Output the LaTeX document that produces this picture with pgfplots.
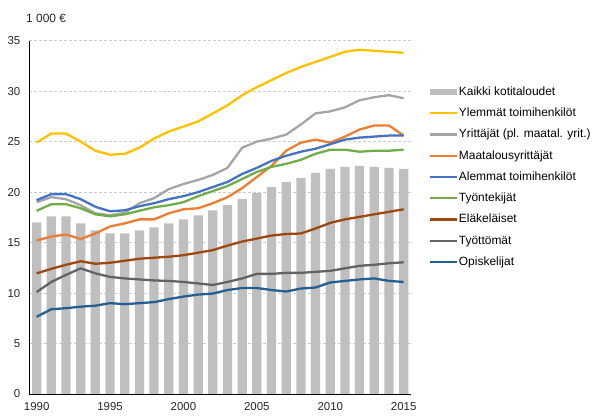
\documentclass[border=0pt]{standalone}
\usepackage{fontspec}
\setmainfont{Liberation Sans}
\usepackage{pgfplots}
\pgfplotsset{compat=1.18}
\definecolor{barcol}{HTML}{BFBFBF}
\definecolor{cyel}{HTML}{FFC000}
\definecolor{cgray}{HTML}{A5A5A5}
\definecolor{corange}{HTML}{ED7D31}
\definecolor{cblue}{HTML}{4472C4}
\definecolor{cgreen}{HTML}{70AD47}
\definecolor{cbrown}{HTML}{9E480E}
\definecolor{cdgray}{HTML}{636363}
\definecolor{cdblue}{HTML}{255E91}
\begin{document}
\begin{tikzpicture}
\useasboundingbox (-29bp,-22bp) rectangle (576bp,394bp);
\begin{axis}[
  at={(0,0)}, anchor=south west,
  scale only axis, width=382bp, height=353.3bp,
  xmin=1989.48, xmax=2015.5, ymin=0, ymax=35,
  xtick={1990,1995,2000,2005,2010,2015},
  ytick={0,5,...,35},
  xticklabel style={/pgf/number format/1000 sep={}},
  /pgf/number format/assume math mode=true,
  tick label style={font=\fontsize{11.5}{13}\selectfont, text=black!85},
  major tick length=0pt,
  axis lines*=left,
  axis line style={black, line width=0.8pt, -},
  ymajorgrids, grid style={gray!40, densely dashed, line width=0.5pt},
  yticklabel style={xshift=-5.2bp},
  xticklabel style={yshift=-5.1bp},
  every axis plot/.append style={line width=2.3pt, line join=round},
  legend style={at={(1.047,0.873)}, anchor=north west, draw=none, fill=none,
    font=\fontsize{12}{14}\selectfont, row sep=8.75bp, inner sep=0pt,
    nodes={inner sep=0.5bp, text height=9bp, text depth=2.5bp}},
  legend cell align=left,
  legend image code/.code={\draw[#1, line width=2.3pt] (0bp,0bp) -- (27bp,0bp);},
]
\addplot[ybar, bar width=0.63, fill=barcol, draw=none, line width=0pt,
  legend image code/.code={\fill[barcol] (0bp,-3bp) rectangle (27bp,3bp);}]
coordinates {(1990,17.0)(1991,17.6)(1992,17.6)(1993,16.9)(1994,16.2)(1995,15.9)(1996,15.9)(1997,16.2)(1998,16.5)(1999,16.9)(2000,17.3)(2001,17.7)(2002,18.2)(2003,18.7)(2004,19.3)(2005,19.9)(2006,20.5)(2007,21.0)(2008,21.4)(2009,21.9)(2010,22.3)(2011,22.5)(2012,22.6)(2013,22.5)(2014,22.4)(2015,22.3)};
\addlegendentry{Kaikki kotitaloudet}
\addplot[cyel] coordinates {(1990,24.9)(1991,25.8)(1992,25.8)(1993,25.0)(1994,24.1)(1995,23.7)(1996,23.8)(1997,24.4)(1998,25.3)(1999,26.0)(2000,26.5)(2001,27.0)(2002,27.8)(2003,28.6)(2004,29.6)(2005,30.4)(2006,31.1)(2007,31.8)(2008,32.4)(2009,32.9)(2010,33.4)(2011,33.9)(2012,34.1)(2013,34.0)(2014,33.9)(2015,33.8)};
\addlegendentry{Ylemmät toimihenkilöt}
\addplot[cgray] coordinates {(1990,19.0)(1991,19.5)(1992,19.3)(1993,18.7)(1994,17.9)(1995,17.7)(1996,17.95)(1997,18.9)(1998,19.4)(1999,20.3)(2000,20.8)(2001,21.2)(2002,21.7)(2003,22.4)(2004,24.4)(2005,25.0)(2006,25.3)(2007,25.7)(2008,26.7)(2009,27.8)(2010,28.0)(2011,28.4)(2012,29.1)(2013,29.4)(2014,29.6)(2015,29.3)};
\addlegendentry{Yrittäjät (pl. maatal. yrit.)}
\addplot[corange] coordinates {(1990,15.2)(1991,15.6)(1992,15.8)(1993,15.35)(1994,15.9)(1995,16.6)(1996,16.9)(1997,17.3)(1998,17.3)(1999,17.9)(2000,18.3)(2001,18.4)(2002,18.9)(2003,19.5)(2004,20.4)(2005,21.5)(2006,22.6)(2007,24.1)(2008,24.9)(2009,25.2)(2010,24.9)(2011,25.5)(2012,26.2)(2013,26.6)(2014,26.6)(2015,25.6)};
\addlegendentry{Maatalousyrittäjät}
\addplot[cblue] coordinates {(1990,19.2)(1991,19.8)(1992,19.8)(1993,19.3)(1994,18.55)(1995,18.1)(1996,18.2)(1997,18.6)(1998,18.9)(1999,19.3)(2000,19.6)(2001,20.0)(2002,20.5)(2003,21.0)(2004,21.8)(2005,22.4)(2006,23.1)(2007,23.6)(2008,24.0)(2009,24.3)(2010,24.75)(2011,25.2)(2012,25.4)(2013,25.5)(2014,25.6)(2015,25.6)};
\addlegendentry{Alemmat toimihenkilöt}
\addplot[cgreen] coordinates {(1990,18.15)(1991,18.8)(1992,18.8)(1993,18.4)(1994,17.8)(1995,17.6)(1996,17.8)(1997,18.15)(1998,18.5)(1999,18.7)(2000,19.0)(2001,19.6)(2002,20.1)(2003,20.6)(2004,21.3)(2005,22.0)(2006,22.5)(2007,22.8)(2008,23.2)(2009,23.8)(2010,24.2)(2011,24.2)(2012,24.0)(2013,24.1)(2014,24.1)(2015,24.2)};
\addlegendentry{Työntekijät}
\addplot[cbrown] coordinates {(1990,11.95)(1991,12.4)(1992,12.8)(1993,13.15)(1994,12.9)(1995,13.0)(1996,13.2)(1997,13.4)(1998,13.5)(1999,13.6)(2000,13.75)(2001,14.0)(2002,14.25)(2003,14.7)(2004,15.1)(2005,15.4)(2006,15.7)(2007,15.85)(2008,15.9)(2009,16.4)(2010,16.95)(2011,17.3)(2012,17.55)(2013,17.8)(2014,18.05)(2015,18.3)};
\addlegendentry{Eläkeläiset}
\addplot[cdgray] coordinates {(1990,10.1)(1991,11.1)(1992,11.8)(1993,12.45)(1994,11.95)(1995,11.6)(1996,11.45)(1997,11.35)(1998,11.25)(1999,11.2)(2000,11.1)(2001,10.95)(2002,10.8)(2003,11.1)(2004,11.45)(2005,11.9)(2006,11.9)(2007,12.0)(2008,12.0)(2009,12.1)(2010,12.2)(2011,12.45)(2012,12.7)(2013,12.8)(2014,12.95)(2015,13.05)};
\addlegendentry{Työttömät}
\addplot[cdblue] coordinates {(1990,7.65)(1991,8.4)(1992,8.5)(1993,8.65)(1994,8.75)(1995,9.0)(1996,8.9)(1997,9.0)(1998,9.1)(1999,9.4)(2000,9.65)(2001,9.85)(2002,9.95)(2003,10.3)(2004,10.5)(2005,10.5)(2006,10.3)(2007,10.15)(2008,10.45)(2009,10.55)(2010,11.05)(2011,11.2)(2012,11.35)(2013,11.45)(2014,11.2)(2015,11.1)};
\addlegendentry{Opiskelijat}
\end{axis}
\node[anchor=west, inner sep=0pt, font=\fontsize{12}{14}\selectfont, text=black!85] at (-3bp,376bp) {1 000 €};
\end{tikzpicture}
\end{document}
